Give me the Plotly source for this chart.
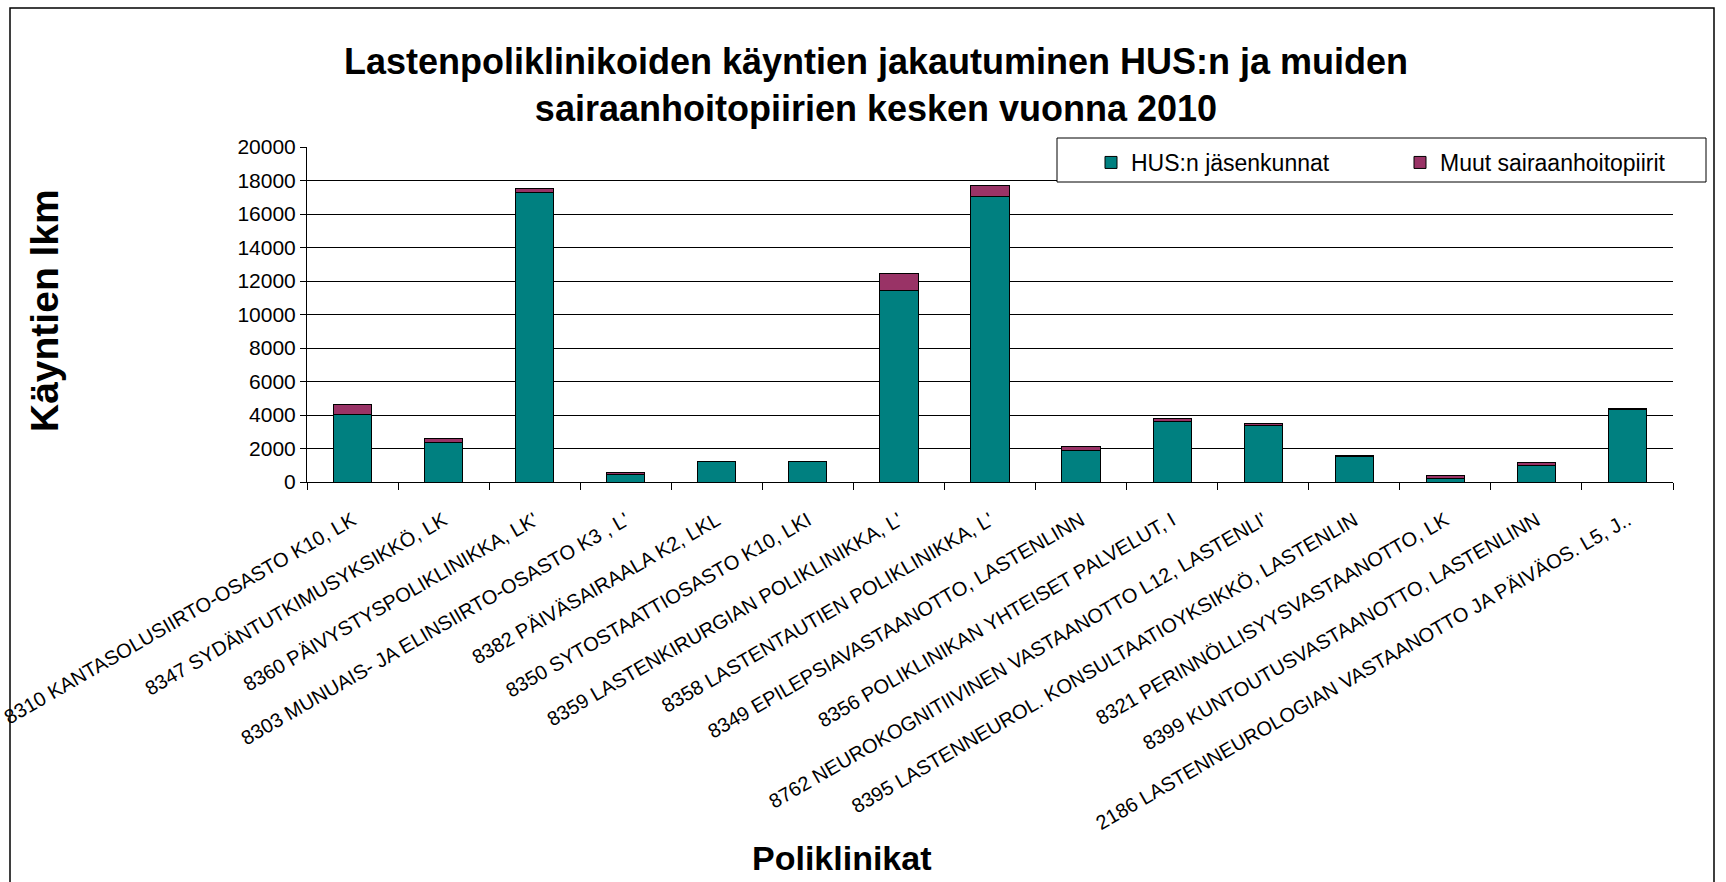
import plotly.graph_objects as go

categories = [
    "8310 KANTASOLUSIIRTO-OSASTO K10, LK",
    "8347 SYDÄNTUTKIMUSYKSIKKÖ, LK",
    "8360 PÄIVYSTYSPOLIKLINIKKA, LK'",
    "8303 MUNUAIS- JA ELINSIIRTO-OSASTO K3 , L'",
    "8382 PÄIVÄSAIRAALA K2, LKL",
    "8350 SYTOSTAATTIOSASTO K10, LKI",
    "8359 LASTENKIRURGIAN POLIKLINIKKA, L'",
    "8358 LASTENTAUTIEN POLIKLINIKKA, L'",
    "8349 EPILEPSIAVASTAANOTTO, LASTENLINN",
    "8356 POLIKLINIKAN YHTEISET PALVELUT, I",
    "8762 NEUROKOGNITIIVINEN VASTAANOTTO L12, LASTENLI'",
    "8395 LASTENNEUROL. KONSULTAATIOYKSIKKÖ, LASTENLIN",
    "8321 PERINNÖLLISYYSVASTAANOTTO, LK",
    "8399 KUNTOUTUSVASTAANOTTO, LASTENLINN",
    "2186 LASTENNEUROLOGIAN VASTAANOTTO JA PÄIVÄOS. L5, J..",
]
hus = [4030, 2350, 17270, 440, 1230, 1220, 11440, 17030, 1890, 3590, 3370, 1550, 200, 1000, 4300]
muut = [600, 240, 260, 120, 20, 15, 1010, 700, 240, 200, 120, 45, 180, 160, 100]
y_ticks = [0, 2000, 4000, 6000, 8000, 10000, 12000, 14000, 16000, 18000, 20000]

FONT = "Liberation Sans, Arial, sans-serif"
W, H = 1726, 882
L, R, T, B = 307, 1673, 147, 482


def px_x(x):
    return (x - L) / (R - L)


def px_y(y):
    return (B - y) / (B - T)


fig = go.Figure()
fig.add_trace(go.Bar(
    x=categories, y=hus, name="HUS:n jäsenkunnat",
    marker=dict(color="#008080", line=dict(color="black", width=1)),
))
fig.add_trace(go.Bar(
    x=categories, y=muut, name="Muut sairaanhoitopiirit",
    marker=dict(color="#993366", line=dict(color="black", width=1)),
))

fig.update_layout(
    width=W, height=H,
    barmode="stack", bargap=0.58,
    font=dict(family=FONT, color="black"),
    paper_bgcolor="white", plot_bgcolor="white",
    margin=dict(l=L, r=W - R, t=T, b=H - B, autoexpand=False),
    hovermode=False,
    title=dict(
        text="<b>Lastenpoliklinikoiden käyntien jakautuminen HUS:n ja muiden<br>sairaanhoitopiirien kesken vuonna 2010</b>",
        font=dict(size=36, family=FONT, color="black"),
        x=px_x(876), xref="paper", xanchor="center",
        y=1 - 74 / H, yref="container", yanchor="top",
    ),
    legend=dict(
        orientation="h", x=px_x(1091), y=px_y(141), xanchor="left", yanchor="top",
        bgcolor="rgba(0,0,0,0)", borderwidth=0,
        font=dict(size=23, family=FONT), entrywidth=264, entrywidthmode="pixels",
        traceorder="normal",
    ),
    xaxis=dict(
        tickangle=-30, tickfont=dict(size=20), showline=True, linecolor="black",
        linewidth=1, ticks="outside", tickson="boundaries", ticklen=7,
        tickcolor="black", showgrid=False, automargin=False, ticklabelstandoff=18,
    ),
    yaxis=dict(
        range=[0, 20000], tickvals=y_ticks, tickformat="d", tickfont=dict(size=21),
        showline=True, linecolor="black", linewidth=1, ticks="outside",
        ticklen=6, tickcolor="black", showgrid=True, gridcolor="black",
        gridwidth=1, zeroline=False, automargin=False,
    ),
    shapes=[
        dict(type="rect", xref="paper", yref="paper",
             x0=px_x(10), x1=px_x(1714), y0=px_y(900), y1=px_y(8),
             line=dict(color="black", width=1.5), fillcolor="rgba(0,0,0,0)", layer="below"),
        dict(type="rect", xref="paper", yref="paper",
             x0=px_x(1057), x1=px_x(1706), y0=px_y(182), y1=px_y(138),
             line=dict(color="black", width=1), fillcolor="white", layer="above"),
    ],
    annotations=[
        dict(text="<b>Käyntien lkm</b>", textangle=-90, xref="paper", yref="paper",
             x=px_x(44), y=px_y(311), xanchor="center", yanchor="middle",
             showarrow=False, font=dict(size=39, family=FONT)),
        dict(text="<b>Poliklinikat</b>", xref="paper", yref="paper",
             x=px_x(842), y=px_y(858), xanchor="center", yanchor="middle",
             showarrow=False, font=dict(size=34, family=FONT)),
    ],
)

fig.write_html("out.html", config={"displayModeBar": False},
               post_script="document.body.style.margin='0';")
